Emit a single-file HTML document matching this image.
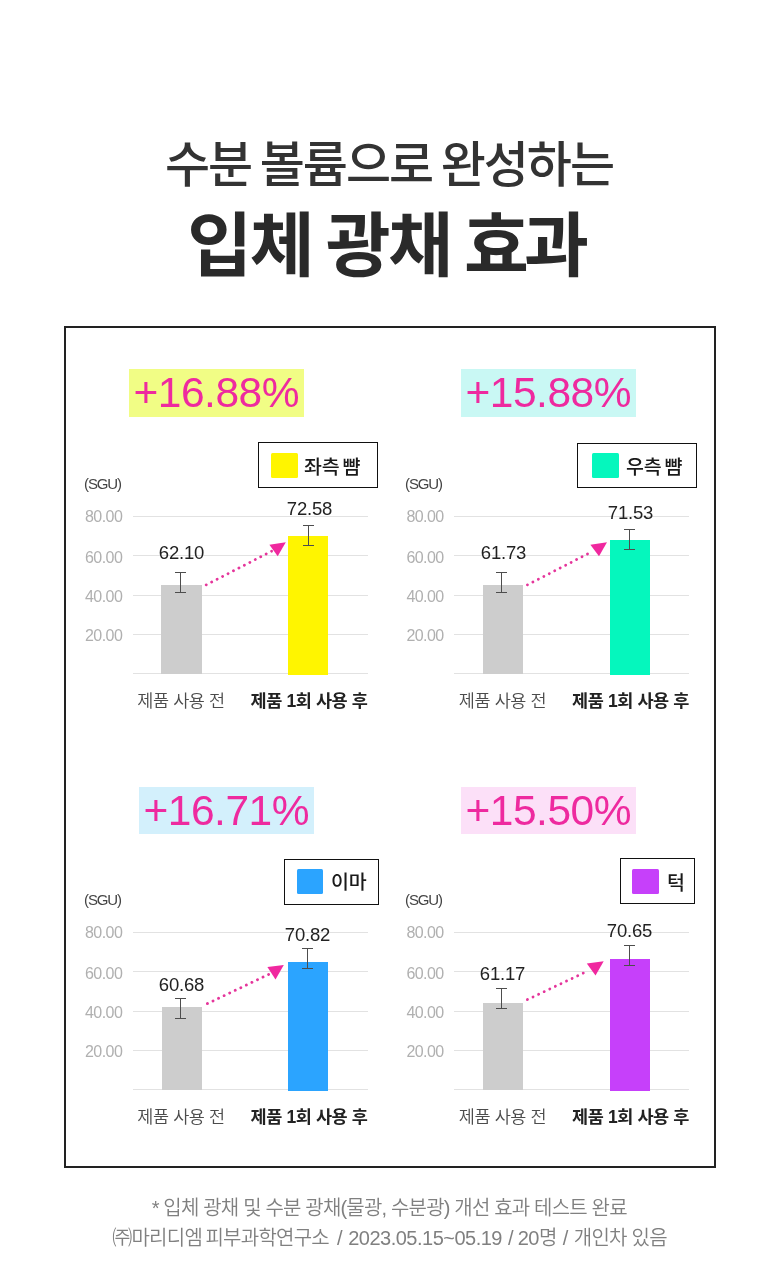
<!DOCTYPE html><html lang="ko"><head><meta charset="utf-8"><title>입체 광채 효과</title><style>
*{margin:0;padding:0;box-sizing:border-box}
html,body{width:780px;height:1280px;background:#fff;overflow:hidden}
body{position:relative;font-family:"Liberation Sans","Noto Sans CJK KR",sans-serif;color:#222}
div{position:absolute;white-space:nowrap}
.t1{left:-1px;width:780px;top:129px;text-align:center;font-size:49px;font-weight:500;color:#333;letter-spacing:-2px;word-spacing:-3px;line-height:72px}
.t2{left:-4.5px;width:780px;top:195px;text-align:center;font-size:70.5px;font-weight:700;color:#2a2a2a;letter-spacing:-2.3px;word-spacing:-4px;line-height:104px}.t2 span{letter-spacing:-5px}
.box{left:64px;top:326px;width:652px;height:842px;border:2px solid #222}
.hl{display:flex;align-items:center;justify-content:center}
.hl span{font-size:42.5px;color:#ee2a9f;line-height:48px;letter-spacing:-0.5px;margin-right:0.5px;position:relative;top:0px}
.lg{border:1px solid #111;background:#fff}
.sw{height:25px;border-radius:1.5px}
.lt{font-size:19.5px;line-height:28px;font-weight:500;color:#1a1a1a;word-spacing:-2px;letter-spacing:-0.3px}
.sgu{font-size:15px;color:#444;line-height:20px;letter-spacing:-1.1px;margin-top:-0.5px}
.yl{font-size:16px;color:#b0b0b0;line-height:20px;letter-spacing:-0.55px}
.gl{width:235px;height:1px;background:#e2e2e2}
.bar{}
.eb{width:11px;border-top:1px solid #4d4d4d;border-bottom:1px solid #4d4d4d}
.eb:after{content:"";position:absolute;left:5px;top:0;bottom:0;width:1px;background:#4d4d4d}
.val{font-size:18.5px;line-height:24px;color:#222;transform:translateX(-50%);letter-spacing:-0.2px;margin-left:0.5px}
.xl{font-size:17.5px;line-height:24px;color:#4c4c4c;font-weight:350;letter-spacing:-0.4px;transform:translateX(-50%)}
.xb{font-weight:700;color:#222}
.ft{left:0;width:780px;text-align:center;font-size:20px;color:#808080;line-height:30px;letter-spacing:-0.5px;font-weight:350}.f1{letter-spacing:-0.82px}.f2{word-spacing:1px}.f2 .k{letter-spacing:-0.75px;word-spacing:0}
.ar{position:absolute;left:0;top:0}
</style></head><body>
<div class="t1">수분 볼륨으로 완성하는</div>
<div class="t2">입체 광채 <span>효과</span></div>
<div class="box"></div>
<div class="hl" style="left:129px;top:369px;width:175px;height:48px;background:#f1fd85"><span>+16.88%</span></div>
<div class="lg" style="left:258px;top:442px;width:120px;height:46px"></div>
<div class="sw" style="left:271px;top:452.5px;width:27px;background:#fff500"></div>
<div class="lt" style="left:304px;top:453px">좌측 뺨</div>
<div class="sgu" style="left:84px;top:474px">(SGU)</div>
<div class="gl" style="left:133px;top:516px"></div>
<div class="yl" style="left:85px;top:507px">80.00</div>
<div class="gl" style="left:133px;top:555px"></div>
<div class="yl" style="left:85px;top:548px">60.00</div>
<div class="gl" style="left:133px;top:595px"></div>
<div class="yl" style="left:85px;top:587px">40.00</div>
<div class="gl" style="left:133px;top:634px"></div>
<div class="yl" style="left:85px;top:626px">20.00</div>
<div class="gl" style="left:133px;top:673px"></div>
<div class="bar" style="left:161px;top:585px;width:41px;height:89px;background:#cdcdcd"></div>
<div class="bar" style="left:288px;top:536px;width:40px;height:139px;background:#fff500"></div>
<div class="eb" style="left:175px;top:572px;height:21px"></div>
<div class="eb" style="left:303px;top:525px;height:21px"></div>
<div class="val" style="left:181px;top:541px">62.10</div>
<div class="val" style="left:309px;top:497px">72.58</div>
<div class="xl" style="left:181px;top:689px">제품 사용 전</div>
<div class="xl xb" style="left:309px;top:689px">제품 1회 사용 후</div>
<div class="hl" style="left:461px;top:369px;width:175px;height:48px;background:#c9f8f4"><span>+15.88%</span></div>
<div class="lg" style="left:577px;top:443px;width:120px;height:45px"></div>
<div class="sw" style="left:592px;top:452.5px;width:27px;background:#05f7bd"></div>
<div class="lt" style="left:626px;top:453px">우측 뺨</div>
<div class="sgu" style="left:405px;top:474px">(SGU)</div>
<div class="gl" style="left:454px;top:516px"></div>
<div class="yl" style="left:406.4px;top:507px">80.00</div>
<div class="gl" style="left:454px;top:555px"></div>
<div class="yl" style="left:406.4px;top:548px">60.00</div>
<div class="gl" style="left:454px;top:595px"></div>
<div class="yl" style="left:406.4px;top:587px">40.00</div>
<div class="gl" style="left:454px;top:634px"></div>
<div class="yl" style="left:406.4px;top:626px">20.00</div>
<div class="gl" style="left:454px;top:673px"></div>
<div class="bar" style="left:483px;top:585px;width:40px;height:89px;background:#cdcdcd"></div>
<div class="bar" style="left:610px;top:540px;width:40px;height:135px;background:#05f7bd"></div>
<div class="eb" style="left:496px;top:572px;height:21px"></div>
<div class="eb" style="left:624px;top:529px;height:21px"></div>
<div class="val" style="left:503px;top:541px">61.73</div>
<div class="val" style="left:630px;top:501px">71.53</div>
<div class="xl" style="left:502.5px;top:689px">제품 사용 전</div>
<div class="xl xb" style="left:630.5px;top:689px">제품 1회 사용 후</div>
<div class="hl" style="left:139px;top:787px;width:175px;height:47px;background:#d3f0fc"><span>+16.71%</span></div>
<div class="lg" style="left:284px;top:859px;width:95px;height:46px"></div>
<div class="sw" style="left:297px;top:869px;width:26px;background:#2ba4ff"></div>
<div class="lt" style="left:331px;top:868px">이마</div>
<div class="sgu" style="left:84px;top:890px">(SGU)</div>
<div class="gl" style="left:133px;top:932px"></div>
<div class="yl" style="left:85px;top:923px">80.00</div>
<div class="gl" style="left:133px;top:971px"></div>
<div class="yl" style="left:85px;top:964px">60.00</div>
<div class="gl" style="left:133px;top:1011px"></div>
<div class="yl" style="left:85px;top:1003px">40.00</div>
<div class="gl" style="left:133px;top:1050px"></div>
<div class="yl" style="left:85px;top:1042px">20.00</div>
<div class="gl" style="left:133px;top:1089px"></div>
<div class="bar" style="left:162px;top:1007px;width:40px;height:83px;background:#cdcdcd"></div>
<div class="bar" style="left:288px;top:962px;width:40px;height:129px;background:#2ba4ff"></div>
<div class="eb" style="left:175px;top:998px;height:21px"></div>
<div class="eb" style="left:302px;top:948px;height:21px"></div>
<div class="val" style="left:181px;top:973px">60.68</div>
<div class="val" style="left:307px;top:923px">70.82</div>
<div class="xl" style="left:181px;top:1105px">제품 사용 전</div>
<div class="xl xb" style="left:309px;top:1105px">제품 1회 사용 후</div>
<div class="hl" style="left:461px;top:787px;width:175px;height:47px;background:#fce0f8"><span>+15.50%</span></div>
<div class="lg" style="left:620px;top:858px;width:75px;height:46px"></div>
<div class="sw" style="left:632px;top:869px;width:27px;background:#c640fa"></div>
<div class="lt" style="left:667px;top:869px">턱</div>
<div class="sgu" style="left:405px;top:890px">(SGU)</div>
<div class="gl" style="left:454px;top:932px"></div>
<div class="yl" style="left:406.4px;top:923px">80.00</div>
<div class="gl" style="left:454px;top:971px"></div>
<div class="yl" style="left:406.4px;top:964px">60.00</div>
<div class="gl" style="left:454px;top:1011px"></div>
<div class="yl" style="left:406.4px;top:1003px">40.00</div>
<div class="gl" style="left:454px;top:1050px"></div>
<div class="yl" style="left:406.4px;top:1042px">20.00</div>
<div class="gl" style="left:454px;top:1089px"></div>
<div class="bar" style="left:483px;top:1003px;width:40px;height:87px;background:#cdcdcd"></div>
<div class="bar" style="left:610px;top:959px;width:40px;height:132px;background:#c640fa"></div>
<div class="eb" style="left:496px;top:988px;height:21px"></div>
<div class="eb" style="left:624px;top:945px;height:21px"></div>
<div class="val" style="left:502px;top:962px">61.17</div>
<div class="val" style="left:629px;top:919px">70.65</div>
<div class="xl" style="left:502.5px;top:1105px">제품 사용 전</div>
<div class="xl xb" style="left:630.5px;top:1105px">제품 1회 사용 후</div>
<svg class="ar" width="780" height="1280" viewBox="0 0 780 1280">
<line x1="206.2" y1="584.9" x2="271.6" y2="551.2" stroke="#e5359b" stroke-width="2.8" stroke-linecap="round" stroke-dasharray="0.1 6.03"/>
<polygon points="269.4,544.7 285.8,542.2 277.7,556.3" fill="#f0289f"/>
<line x1="527.4" y1="584.9" x2="592.9" y2="551.2" stroke="#e5359b" stroke-width="2.8" stroke-linecap="round" stroke-dasharray="0.1 6.04"/>
<polygon points="590.4,544.7 607,542.2 599,556.3" fill="#f0289f"/>
<line x1="207.4" y1="1003.6" x2="268.6" y2="974.4" stroke="#e5359b" stroke-width="2.8" stroke-linecap="round" stroke-dasharray="0.1 6.06"/>
<polygon points="267.4,967 283.8,965.1 275.5,979.5" fill="#f0289f"/>
<line x1="527.4" y1="999.6" x2="588.8" y2="970.5" stroke="#e5359b" stroke-width="2.8" stroke-linecap="round" stroke-dasharray="0.1 6.08"/>
<polygon points="586.8,963.5 603.7,961.2 595.5,975.6" fill="#f0289f"/>
</svg>
<div class="ft f1" style="top:1193px;left:-0.8px">* 입체 광채 및 수분 광채(물광, 수분광) 개선 효과 테스트 완료</div>
<div class="ft f2" style="top:1223px;left:-0.5px"><span class="k" style="word-spacing:-1.4px">㈜마리디엠 피부과학연구소</span><span style="margin-left:2px"> / 2023.05.15~05.19 /</span><span style="margin-left:-1.5px"> 20</span><span class="k">명</span> / <span class="k">개인차 있음</span></div>
</body></html>
